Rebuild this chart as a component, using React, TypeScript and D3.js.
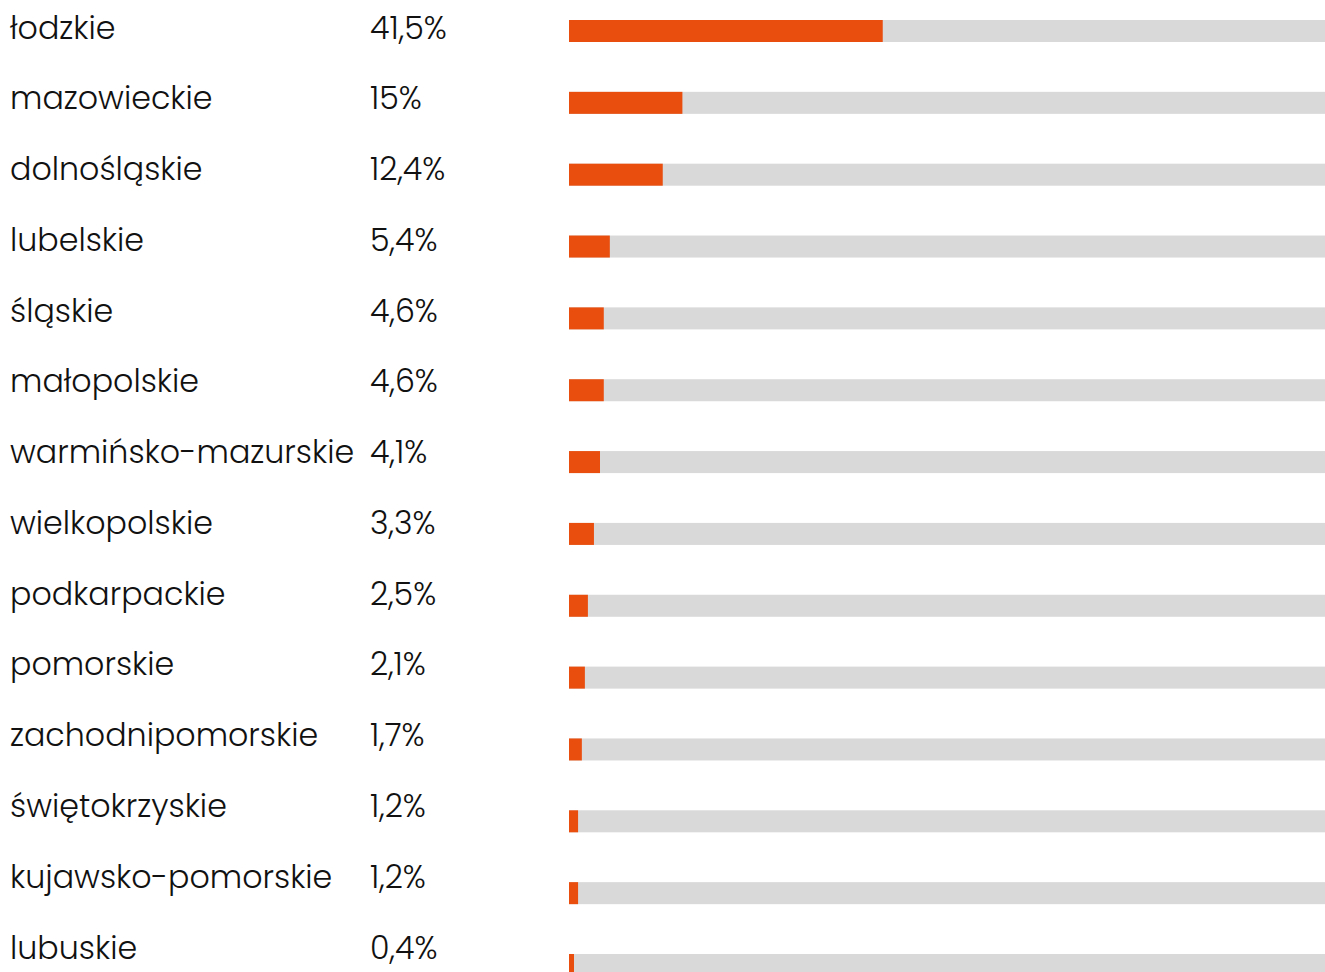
import { useEffect, useRef } from 'react'
import * as d3 from 'd3'

const regions = [
  'łodzkie', 'mazowieckie', 'dolnośląskie', 'lubelskie', 'śląskie', 'małopolskie',
  'warmińsko-mazurskie', 'wielkopolskie', 'podkarpackie', 'pomorskie',
  'zachodnipomorskie', 'świętokrzyskie', 'kujawsko-pomorskie', 'lubuskie',
]
const shares = [41.5, 15, 12.4, 5.4, 4.6, 4.6, 4.1, 3.3, 2.5, 2.1, 1.7, 1.2, 1.2, 0.4]
const shareLabels = ['41,5%', '15%', '12,4%', '5,4%', '4,6%', '4,6%', '4,1%', '3,3%', '2,5%', '2,1%', '1,7%', '1,2%', '1,2%', '0,4%']

const ORANGE = '#e94e0f'
const TRACK = '#d9d9d9'
const FONT = "Poppins, Inter, 'Noto Sans', sans-serif"

export default function App() {
  const ref = useRef<SVGSVGElement>(null)

  useEffect(() => {
    if (!ref.current) return
    const svg = d3.select(ref.current)
    svg.selectAll('*').remove()

    const width = 1325
    const height = 972
    svg.attr('width', width).attr('height', height).attr('viewBox', `0 0 ${width} ${height}`)

    // text rows and bar rows sit on slightly different grids
    const yText = d3.scalePoint<string>().domain(regions).range([38.5, 958.5])
    const yBar = d3.scalePoint<string>().domain(regions).range([20, 954])
    const x = d3.scaleLinear().domain([0, 100]).range([569, 1325])
    const barH = 22

    const rows = svg.selectAll('g.row')
      .data(regions)
      .join('g')
      .attr('class', 'row')

    rows.append('rect')
      .attr('x', x(0))
      .attr('y', d => yBar(d)!)
      .attr('width', x(100) - x(0))
      .attr('height', barH)
      .attr('fill', TRACK)

    rows.append('rect')
      .attr('x', x(0))
      .attr('y', d => yBar(d)!)
      .attr('width', (_, i) => Math.max(x(shares[i]) - x(0), 5))
      .attr('height', barH)
      .attr('fill', ORANGE)

    rows.append('text')
      .attr('x', 10)
      .attr('y', d => yText(d)!)
      .attr('font-family', FONT)
      .attr('font-weight', 300)
      .attr('font-size', '31.7px')
      .attr('fill', '#111')
      .text(d => d)

    rows.append('text')
      .attr('x', 370)
      .attr('y', d => yText(d)!)
      .attr('font-family', FONT)
      .attr('font-weight', 300)
      .attr('font-size', '31.7px')
      .attr('fill', '#111')
      .text((_, i) => shareLabels[i])
  }, [])

  return (
    <div style={{ position: 'absolute', left: 0, top: 0 }}>
      <svg ref={ref} style={{ display: 'block' }} />
    </div>
  )
}
